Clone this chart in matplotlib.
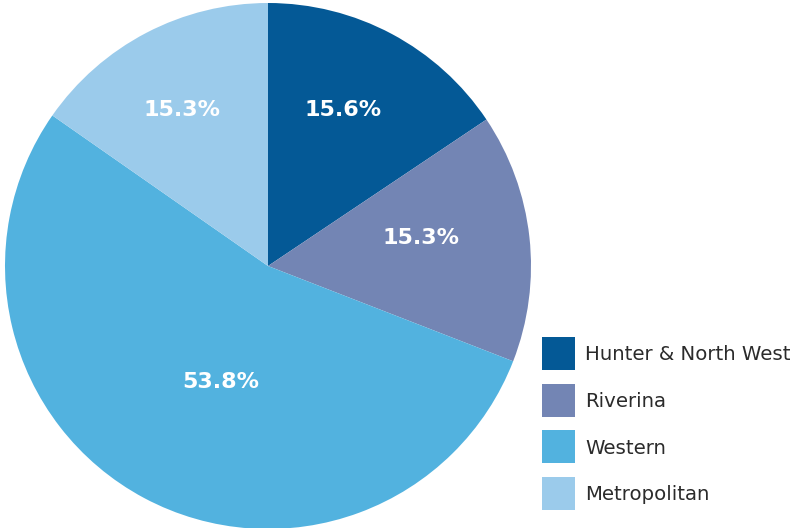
import matplotlib.pyplot as plt
from matplotlib.patches import Rectangle
import numpy as np

regions = ['Hunter & North West', 'Riverina', 'Western', 'Metropolitan']
shares = [15.6, 15.3, 53.8, 15.3]
colors = ['#045996', '#7385b4', '#52b2df', '#9bcbeb']
# where each percentage sits: fraction of radius, angle nudge (deg) off the wedge middle
label_r = [0.658, 0.59, 0.477, 0.678]
label_turn = [2.4, 4.1, 6.0, 1.4]

W, H = 795, 528
fig = plt.figure(figsize=(W / 100, H / 100), dpi=100)
fig.patch.set_facecolor('white')

# pie axes: centre (268, 266) px, radius 263 px
cx, cy, r = 268, 266, 263
ax = fig.add_axes([(cx - r) / W, (H - cy - r) / H, 2 * r / W, 2 * r / H])
wedges, _ = ax.pie(shares, colors=colors, startangle=90, counterclock=False,
                   radius=1, wedgeprops=dict(linewidth=0))
ax.set_xlim(-1, 1)
ax.set_ylim(-1, 1)
ax.set_aspect('equal')
ax.axis('off')

for w, val, d, t in zip(wedges, shares, label_r, label_turn):
    ang = np.deg2rad((w.theta1 + w.theta2) / 2 + t)
    ax.text(d * np.cos(ang), d * np.sin(ang), f'{val:.1f}%',
            ha='center', va='center', color='white', fontsize=16,
            fontweight='bold', family='DejaVu Sans')

# legend: squares with labels to the right
sq = 33
x0, y0, step = 542, 337, 46.5
for i, (name, c) in enumerate(zip(regions, colors)):
    top = y0 + i * step
    fig.add_artist(Rectangle((x0 / W, (H - top - sq) / H), sq / W, sq / H,
                             transform=fig.transFigure, facecolor=c,
                             edgecolor='none'))
    fig.text(585 / W, (H - top - sq / 2 - 1.5) / H, name, ha='left', va='center',
             fontsize=14.2, color='#2b2b2b', family='DejaVu Sans')

fig.savefig('out.png', dpi=100, facecolor='white')
